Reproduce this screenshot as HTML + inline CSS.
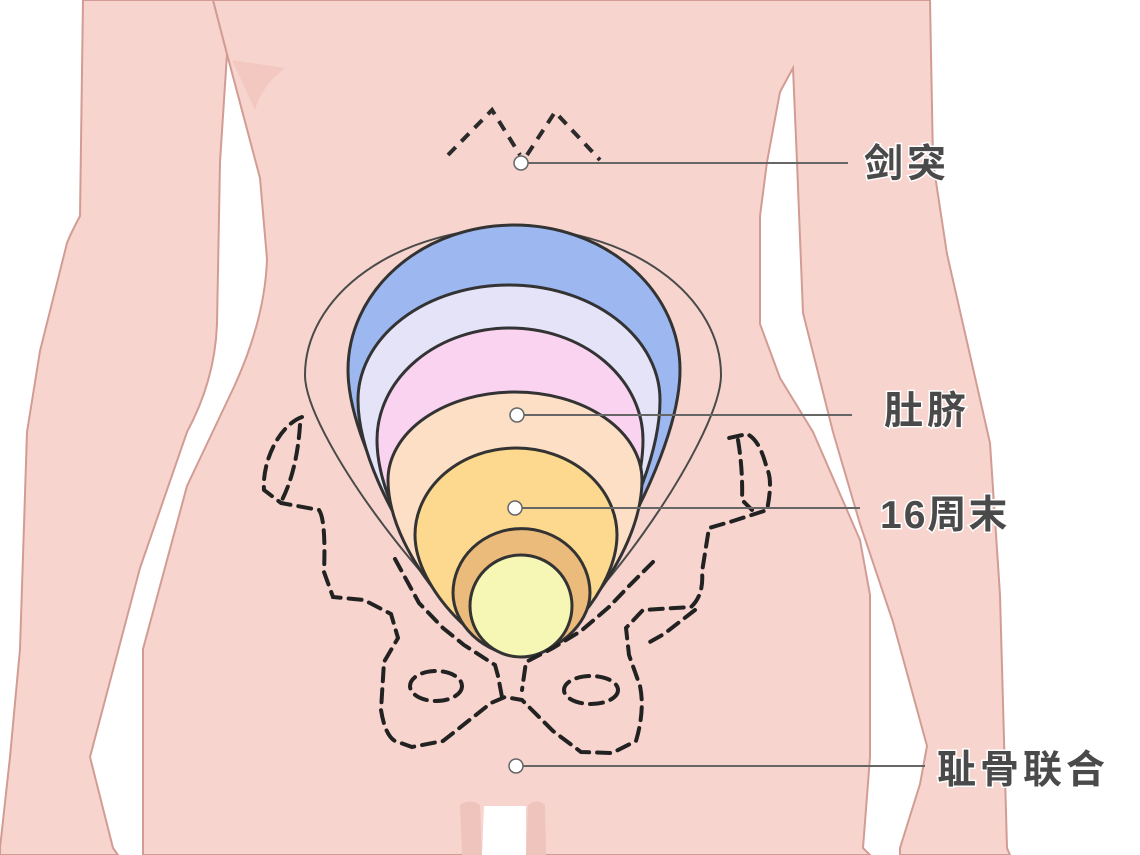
<!DOCTYPE html>
<html><head><meta charset="utf-8"><style>
html,body{margin:0;padding:0;background:#fff;}
svg{display:block;}
text{font-family:"Liberation Sans","Noto Sans CJK SC",sans-serif;font-size:39px;fill:#4a4a4a;stroke:#fff;stroke-width:3px;paint-order:stroke;font-weight:bold;}
</style></head><body>
<svg width="1140" height="855" viewBox="0 0 1140 855" xmlns="http://www.w3.org/2000/svg">
<rect width="1140" height="855" fill="#fff"/>
<!-- left arm -->
<path d="M83,0 L80,216 Q70,235 67,243 L40,351 L27,432 L20,649 L10,757 L0,848 L0,855 L118,855 L113,848 L90,757 L140,568 L187,432 Q215,380 217,324 L220,162 L227,54 L213,0 Z" fill="#f7d5ce" stroke="#d29c94" stroke-width="2"/>
<!-- torso -->
<path d="M213,0 L227,54 L260,178 L267,259 Q265,320 233,389 L187,486 L143,649 L143,855 L870,855 L863,848 L870,757 L870,595 L860,540 L813,432 L780,378 L760,324 L760,216 L767,162 L780,92 L793,68 L797,162 L803,313 L833,432 L860,524 L893,622 L927,746 L920,784 L900,848 L900,855 L1010,855 L1007,848 L1000,595 L990,443 L947,254 L933,162 L930,0 Z" fill="#f7d5ce" stroke="#d29c94" stroke-width="2"/>
<path d="M232,60 L285,68 Q262,85 255,110 Z" fill="#efc2ba" opacity="0.7"/>
<!-- crotch gap -->
<path d="M462,855 L460,805 Q470,798 480,805 L482,855 Z" fill="#efc4bc"/>
<path d="M482,855 L484,806 L526,806 L526,855 Z" fill="#fff"/>
<path d="M526,855 L528,805 Q538,798 545,805 L546,855 Z" fill="#efc4bc"/>
<!-- xiphoid dashes -->
<g fill="none" stroke="#2b2b2b" stroke-width="4" stroke-dasharray="11 8">
<path d="M448,155 L492,110 L520,155"/>
<path d="M527,155 L555,112 L600,160"/>
</g>
<!-- uterus outer thin -->
<path d="M305,375 A208,147 0 0 1 721,375 C721,440 580,640 520,655 C460,640 305,440 305,375 Z" fill="#f7d5ce" stroke="#4a4a4a" stroke-width="2"/>
<g stroke="#333" stroke-width="3">
<path d="M348,370 A166,145 0 0 1 680,370 C680,470 560,655 520,655 C480,655 348,470 348,370 Z" fill="#9db8f1"/>
<path d="M358,400 A151,115 0 0 1 660,400 C660,500 555,655 520,655 C485,655 358,500 358,400 Z" fill="#e5e3f8"/>
<path d="M377,440 A133,112 0 0 1 643,440 C643,530 555,655 520,655 C485,655 377,530 377,440 Z" fill="#f9d3f0"/>
<path d="M388,480 A127,88 0 0 1 642,480 C642,560 555,655 520,655 C485,655 388,560 388,480 Z" fill="#fcdfc4"/>
<path d="M415,535 A101,87 0 0 1 617,535 C617,590 555,655 520,655 C485,655 415,590 415,535 Z" fill="#fdd98f"/>
<path d="M453,593 A68,64 0 0 1 590,593 C590,625 555,655 520,655 C485,655 453,625 453,593 Z" fill="#ebbb7c"/>
<circle cx="521" cy="606" r="51" fill="#f6f7b5"/>
</g>
<!-- pelvis dashes -->
<g fill="none" stroke="#222" stroke-width="4" stroke-dasharray="13 8" stroke-linecap="round">
<path d="M302,417 C280,425 262,460 264,490 L281,503 L319,510 Q326,520 324,572 L333,597 L364,600 L391,614 L398,638 L384,662 L381,710 Q385,735 395,741 L412,747 L443,741 L491,703 L505,697 L522,700 L553,731 L581,752 L612,753 L636,741 Q645,710 640,686 L629,655 L626,628 L643,610 L691,607 Q704,595 702,572 L709,528 L733,521 L767,510 Q773,480 767,469 Q760,440 747,434 L729,438"/>
<path d="M300,425 Q297,470 282,500"/>
<path d="M738,440 Q743,470 742,500 L752,510"/>
<path d="M395,559 L419,603 L443,628 L464,645 L495,665 L498,676 L502,697"/>
<path d="M653,562 L629,586 L609,607 L581,631 L553,648 L526,662 L522,690"/>
<path d="M695,610 L664,634 L648,643"/>
<ellipse cx="436" cy="686" rx="26" ry="15"/>
<ellipse cx="591" cy="690" rx="27" ry="14"/>
</g>
<!-- leader lines -->
<g stroke="#666" stroke-width="2">
<line x1="521" y1="163" x2="848" y2="163"/>
<line x1="517" y1="415" x2="852" y2="415"/>
<line x1="515" y1="508" x2="860" y2="508"/>
<line x1="516" y1="766" x2="925" y2="766"/>
</g>
<g fill="#fff" stroke="#666" stroke-width="1.5">
<circle cx="521" cy="163" r="7"/>
<circle cx="517" cy="415" r="7"/>
<circle cx="515" cy="508" r="7"/>
<circle cx="516" cy="766" r="7"/>
</g>
<text x="864" y="177" style="letter-spacing:4px">剑突</text>
<text x="884" y="424" style="letter-spacing:4px">肚脐</text>
<text x="880" y="528" style="letter-spacing:2px">16周末</text>
<text x="937" y="783" style="letter-spacing:4px">耻骨联合</text>
</svg>
</body></html>
